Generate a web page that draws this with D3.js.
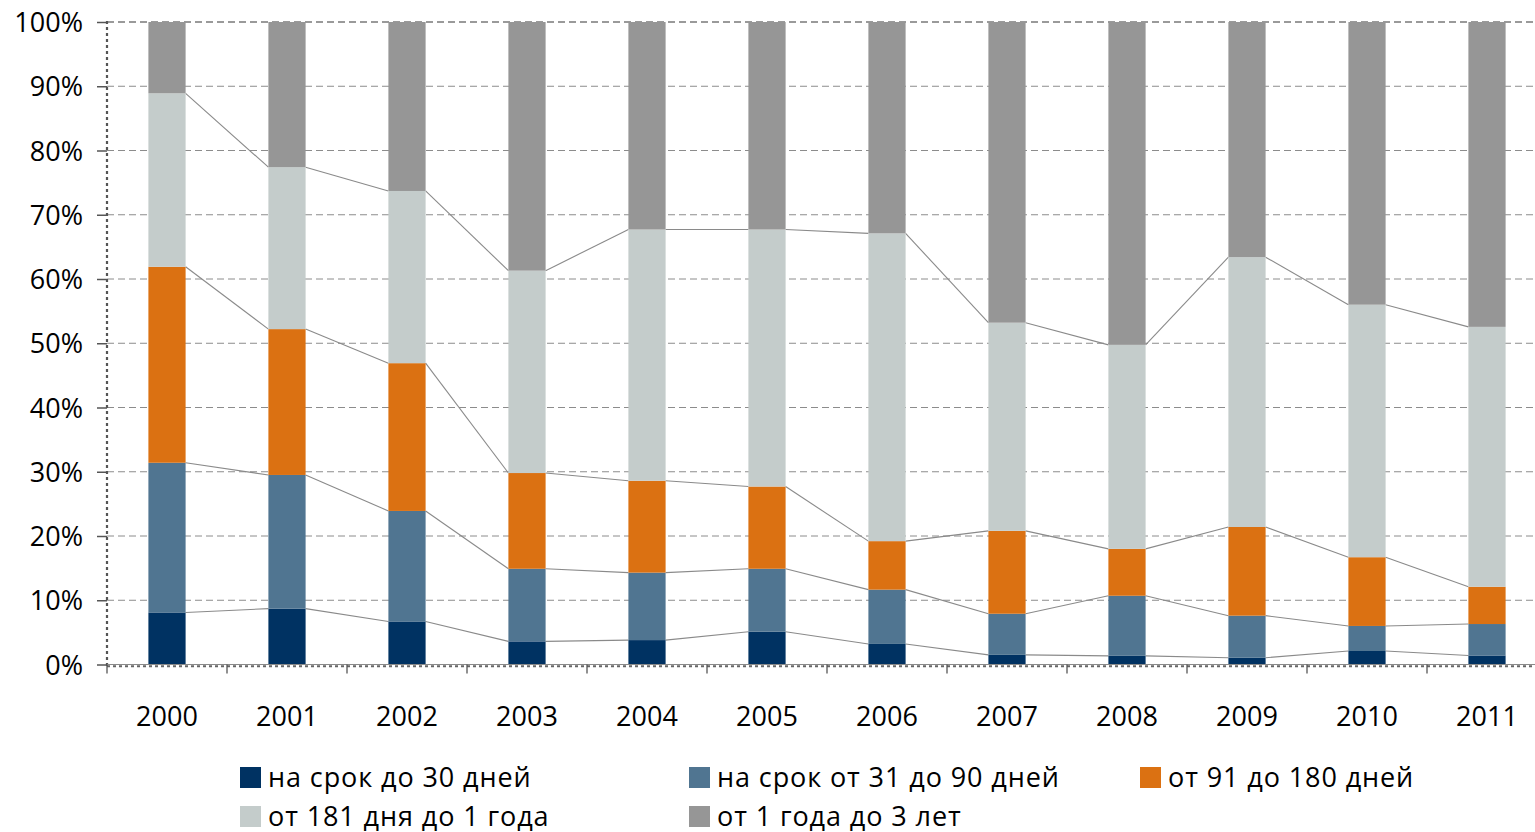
<!DOCTYPE html>
<html>
<head>
<meta charset="utf-8">
<script src="https://d3js.org/d3.v7.min.js"></script>
<title>Структура по срокам</title>
<style>
  body { margin: 0; background: #fff; overflow: hidden; }
  svg text { font-family: 'Open Sans', sans-serif; fill: #000; }
</style>
</head>
<body>
<script>
// годы и доли (%) каждой группы сроков
var years = ["2000","2001","2002","2003","2004","2005","2006","2007","2008","2009","2010","2011"];
var s30   = [8.1, 8.7, 6.7, 3.6, 3.8, 5.1, 3.2, 1.5, 1.35, 1.05, 2.1, 1.4];
var s90   = [23.3, 20.8, 17.2, 11.3, 10.5, 9.8, 8.45, 6.4, 9.35, 6.55, 3.9, 4.9];
var s180  = [30.5, 22.7, 23.0, 14.9, 14.3, 12.8, 7.55, 12.9, 7.3, 13.8, 10.7, 5.8];
var s1y   = [27.0, 25.2, 26.8, 31.5, 39.1, 40.0, 47.9, 32.4, 31.75, 42.0, 39.3, 40.45];
var s3y   = [11.1, 22.6, 26.3, 38.7, 32.3, 32.3, 32.9, 46.8, 50.25, 36.6, 44.0, 47.45];
var yTicks = [0, 10, 20, 30, 40, 50, 60, 70, 80, 90, 100];

var names  = ["на срок до 30 дней", "на срок от 31 до 90 дней", "от 91 до 180 дней",
              "от 181 дня до 1 года", "от 1 года до 3 лет"];
var colors = ["#003262", "#507591", "#db7112", "#c4cccb", "#969696"];

var W = 1535, H = 832,
    x0 = 107, x1 = 1547, y0 = 664.5, y1 = 22;

var rows = years.map(function(y, i){
  return {year: y, a: s30[i], b: s90[i], c: s180[i], d: s1y[i], e: s3y[i]};
});
var keys = ["a","b","c","d","e"];
var stacked = d3.stack().keys(keys)(rows);

var x = d3.scaleBand().domain(years).range([x0, x1]).paddingInner(0.69).paddingOuter(0.345);
var y = d3.scaleLinear().domain([0, 100]).range([y0, y1]);
var bw = x.bandwidth();
var step = x.step();

var svg = d3.select("body").append("svg")
  .attr("width", W).attr("height", H);

// сетка
svg.append("g").selectAll("line")
  .data(yTicks.filter(function(d){ return d > 0; }))
  .enter().append("line")
    .attr("x1", x0).attr("x2", x1)
    .attr("y1", function(d){ return y(d); })
    .attr("y2", function(d){ return y(d); })
    .attr("stroke", function(d){ return d == 100 ? "#7a7a7a" : "#8c8c8c"; })
    .attr("stroke-width", function(d){ return d == 100 ? 1.5 : 1; })
    .attr("stroke-dasharray", "7,4");

// линии рядов между столбцами
var line = d3.line();
stacked.slice(0, 4).forEach(function(s){
  var segs = [];
  for (var i = 0; i < s.length - 1; i++) {
    segs.push([[x(years[i]) + bw, y(s[i][1])], [x(years[i+1]), y(s[i+1][1])]]);
  }
  svg.append("g").selectAll("path")
    .data(segs)
    .enter().append("path")
      .attr("d", line)
      .attr("fill", "none")
      .attr("stroke", "#8a8a8a")
      .attr("stroke-width", 1.1);
});

// столбцы
svg.append("g").selectAll("g")
  .data(stacked)
  .enter().append("g")
    .attr("fill", function(d, i){ return colors[i]; })
  .selectAll("rect")
    .data(function(d){ return d; })
    .enter().append("rect")
      .attr("x", function(d){ return x(d.data.year); })
      .attr("width", bw)
      .attr("y", function(d){ return y(d[1]); })
      .attr("height", function(d){ return y(d[0]) - y(d[1]); });

// ось Y
var yAxis = svg.append("g").attr("transform", "translate(" + x0 + ",0)")
  .call(d3.axisLeft(y).tickValues(yTicks).tickSize(10).tickPadding(14)
        .tickFormat(function(d){ return d + "%"; }));
yAxis.select(".domain").remove();
yAxis.selectAll(".tick line").attr("stroke", "#555").attr("stroke-width", 1.5);
yAxis.selectAll("text").style("font-size", "27px").attr("dy", "0.36em");
svg.append("line")
  .attr("x1", x0).attr("x2", x0).attr("y1", y1 - 1).attr("y2", y0 + 2)
  .attr("stroke", "#555").attr("stroke-width", 2.2).attr("stroke-dasharray", "3,3");

// ось X
svg.append("line")
  .attr("x1", x0).attr("x2", x1).attr("y1", y0).attr("y2", y0)
  .attr("stroke", "#8a8a8a").attr("stroke-width", 1);
svg.append("line")
  .attr("x1", x0).attr("x2", x1).attr("y1", y0 + 1.8).attr("y2", y0 + 1.8)
  .attr("stroke", "#666").attr("stroke-width", 2).attr("stroke-dasharray", "3,3");
svg.append("g").selectAll("line")
  .data(d3.range(years.length + 1))
  .enter().append("line")
    .attr("x1", function(i){ return x0 + i * step; })
    .attr("x2", function(i){ return x0 + i * step; })
    .attr("y1", y0).attr("y2", y0 + 9)
    .attr("stroke", "#555").attr("stroke-width", 1.3);
svg.append("g").selectAll("text")
  .data(years)
  .enter().append("text")
    .attr("x", function(d){ return x(d) + bw / 2; })
    .attr("y", 726)
    .attr("text-anchor", "middle")
    .style("font-size", "27px")
    .text(function(d){ return d; });

// легенда
var legPos = [[240, 767], [689, 767], [1140, 767], [240, 806], [689, 806]];
var leg = svg.append("g").selectAll("g")
  .data(names)
  .enter().append("g")
    .attr("transform", function(d, i){ return "translate(" + legPos[i][0] + "," + legPos[i][1] + ")"; });
leg.append("rect")
  .attr("width", 21).attr("height", 21)
  .attr("fill", function(d, i){ return colors[i]; });
leg.append("text")
  .attr("x", 28).attr("y", 20)
  .style("font-size", "27px")
  .style("letter-spacing", "0.9px")
  .text(function(d){ return d; });
</script>
</body>
</html>
